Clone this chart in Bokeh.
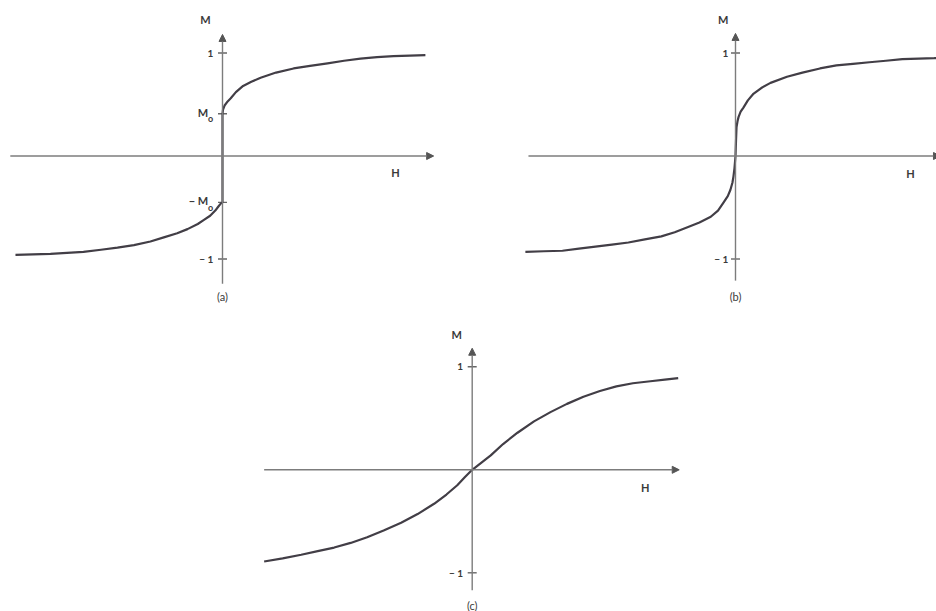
from bokeh.plotting import figure
from bokeh.layouts import column, row
from bokeh.models import Range1d, Label, Arrow, NormalHead, Spacer
from bokeh.embed import file_html
from bokeh.resources import INLINE

# Magnetisation curves M(H), in reduced units (M/Ms)
# (a) curve with a jump of remanent magnetisation +/- M0 at H = 0
a_low_H = [-2.01, -1.84, -1.67, -1.51, -1.35, -1.18, -1.02, -0.86, -0.70, -0.57,
           -0.44, -0.34, -0.24, -0.18, -0.12, -0.07, -0.04, -0.015, 0.0]
a_low_M = [-0.96, -0.955, -0.95, -0.94, -0.93, -0.91, -0.89, -0.865, -0.83, -0.79,
           -0.75, -0.71, -0.66, -0.62, -0.58, -0.53, -0.49, -0.46, -0.45]
a_up_H = [0.0, 0.005, 0.02, 0.05, 0.08, 0.13, 0.20, 0.28, 0.37, 0.52, 0.69, 0.85,
          1.02, 1.18, 1.34, 1.50, 1.66, 1.82, 1.97]
a_up_M = [0.41, 0.45, 0.49, 0.53, 0.56, 0.62, 0.68, 0.72, 0.76, 0.81, 0.85, 0.875,
          0.90, 0.925, 0.945, 0.96, 0.97, 0.975, 0.98]
M0_up = 0.41
M0_low = -0.45

# (b) steep curve through the origin
b_H = [-2.04, -1.86, -1.68, -1.52, -1.36, -1.20, -1.04, -0.88, -0.72, -0.59, -0.46,
       -0.35, -0.24, -0.17, -0.115, -0.075, -0.05, -0.03, -0.02, -0.01, 0.0,
       0.005, 0.01, 0.02, 0.03, 0.05, 0.077, 0.12, 0.17, 0.25, 0.34, 0.50, 0.65,
       0.82, 0.98, 1.14, 1.30, 1.46, 1.62, 1.78, 1.93, 2.0]
b_M = [-0.93, -0.925, -0.92, -0.90, -0.88, -0.86, -0.84, -0.81, -0.78, -0.74, -0.69,
       -0.645, -0.59, -0.53, -0.45, -0.39, -0.33, -0.26, -0.20, -0.12, 0.0,
       0.15, 0.28, 0.34, 0.38, 0.43, 0.47, 0.54, 0.60, 0.66, 0.71, 0.77, 0.81,
       0.85, 0.88, 0.895, 0.91, 0.925, 0.94, 0.945, 0.95, 0.955]

# (c) gentle S-shaped curve
c_H = [-2.02, -1.84, -1.66, -1.50, -1.34, -1.18, -1.02, -0.86, -0.69, -0.53, -0.37,
       -0.25, -0.145, -0.07, 0.0, 0.09, 0.18, 0.30, 0.44, 0.60, 0.76, 0.92, 1.08,
       1.24, 1.40, 1.56, 1.73, 1.87, 2.00]
c_M = [-0.89, -0.86, -0.825, -0.79, -0.755, -0.71, -0.655, -0.59, -0.515, -0.43, -0.33,
       -0.24, -0.15, -0.07, 0.0, 0.07, 0.14, 0.25, 0.36, 0.47, 0.56, 0.64, 0.71,
       0.765, 0.81, 0.84, 0.86, 0.875, 0.89]

tick_values = [1, -1]
tick_labels = ["1", "\u2212 1"]

PX = 103.0  # pixels per unit
AXIS = "#7c7c7c"
CURVE = "#423e46"
TEXT = "#3a3a3a"
FONT = "Lato"


def panel(width, height, ox, oy):
    p = figure(width=width, height=height,
               x_range=Range1d(-ox / PX, (width - ox) / PX),
               y_range=Range1d(-(height - oy) / PX, oy / PX),
               output_backend="svg", toolbar_location=None, min_border=0)
    p.axis.visible = False
    p.grid.visible = False
    p.outline_line_color = None
    p.background_fill_color = "white"
    p.border_fill_color = "white"
    return p


def axes(p, hx0, hx1, my0, my1, ticks):
    head = dict(size=7, fill_color="#555555", line_color="#555555")
    p.add_layout(Arrow(x_start=hx0, y_start=0, x_end=hx1, y_end=0,
                       line_color=AXIS, line_width=1.4, end=NormalHead(**head)))
    p.add_layout(Arrow(x_start=0, y_start=my0, x_end=0, y_end=my1,
                       line_color=AXIS, line_width=1.4, end=NormalHead(**head)))
    p.scatter([0] * len(ticks), ticks, marker="dash", size=9,
              line_color="#666666", line_width=1.4)


def text(p, x, y, s, size=11, align="center", baseline="middle", y_offset=0,
         style="normal"):
    p.add_layout(Label(x=x, y=y, text=s, text_font=FONT, text_color=TEXT,
                       text_font_size=f"{size}px", text_align=align,
                       text_baseline=baseline, y_offset=y_offset,
                       text_font_style=style))


def labels(p, m_xy, one_x, h_xy, cap_y, caption):
    text(p, m_xy[0], m_xy[1], "M", 11, style="bold")
    for v, s in zip(tick_values, tick_labels):
        text(p, one_x, v, s, 10, align="right", style="bold")
    text(p, h_xy[0], h_xy[1], "H", 11, style="bold")
    text(p, 0, cap_y, caption, 11)


# ---- (a) ----
pa = panel(490, 305, 222, 155.5)
axes(pa, -2.06, 2.05, -1.24, 1.18, tick_values + [M0_up, M0_low])
pa.line(a_low_H + a_up_H, a_low_M + a_up_M, line_color=CURVE, line_width=2.2,
        line_join="round")
labels(pa, (-0.165, 1.33), -0.09, (1.68, -0.165), -1.36, "(a)")
text(pa, -0.14, M0_up, "M", 11, align="right", y_offset=1, style="bold")
text(pa, -0.14, M0_up, "o", 9, align="left", y_offset=-5, style="bold")
text(pa, -0.14, M0_low, "\u2212 M", 11, align="right", y_offset=2, style="bold")
text(pa, -0.14, M0_low, "o", 9, align="left", y_offset=-5, style="bold")

# ---- (b) ----
pb = panel(446, 305, 245, 155.5)
axes(pb, -2.01, 1.99, -1.21, 1.19, tick_values)
pb.line(b_H, b_M, line_color=CURVE, line_width=2.2, line_join="round")
labels(pb, (-0.12, 1.33), -0.07, (1.70, -0.17), -1.36, "(b)")

# ---- (c) ----
pc = panel(460, 306, 231.7, 164.3)
axes(pc, -2.02, 2.01, -1.17, 1.18, tick_values)
pc.line(c_H, c_M, line_color=CURVE, line_width=2.2, line_join="round")
labels(pc, (-0.15, 1.31), -0.09, (1.68, -0.17), -1.32, "(c)")

layout = column(row(pa, pb, spacing=0),
                row(Spacer(width=240, height=306), pc, spacing=0),
                spacing=0)

open("out.html", "w").write(file_html(layout, INLINE))
